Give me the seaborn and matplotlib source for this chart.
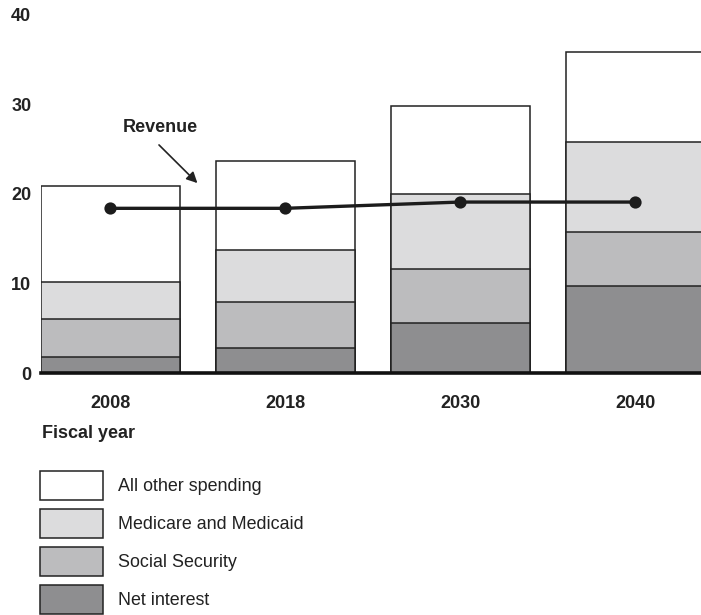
import matplotlib
matplotlib.use("Agg")
import matplotlib.pyplot as plt
from matplotlib.patches import Patch
import seaborn as sns
import numpy as np

# ---- data ----
years = ["2008", "2018", "2030", "2040"]
net_interest = [1.8, 2.8, 5.6, 9.7]
social_security = [4.2, 5.1, 6.0, 6.1]
medicare_medicaid = [4.2, 5.8, 8.4, 10.0]
all_other = [10.7, 10.0, 9.8, 10.1]
revenue = [18.4, 18.4, 19.1, 19.1]
series_names = ["All other spending", "Medicare and Medicaid", "Social Security", "Net interest"]
y_ticks = [0, 10, 20, 30, 40]

sns.set_style("white")
plt.rcParams["font.family"] = ["Liberation Sans", "DejaVu Sans"]

colors = {
    "Net interest": "#8e8e90",
    "Social Security": "#bcbcbe",
    "Medicare and Medicaid": "#dcdcdd",
    "All other spending": "#ffffff",
}
edge = "#222222"

fig = plt.figure(figsize=(7.01, 6.15), dpi=100)
W, H = 701, 615
ax = fig.add_axes([41 / W, 1 - 373 / H, 660 / W, 358 / H])

layers = [net_interest, social_security, medicare_medicaid, all_other]
names_bottom_up = ["Net interest", "Social Security", "Medicare and Medicaid", "All other spending"]
cum = np.cumsum(np.array(layers), axis=0)

# draw from the top (total) down so each lower layer overlays
for i in range(len(layers) - 1, -1, -1):
    sns.barplot(x=years, y=cum[i], color=colors[names_bottom_up[i]], saturation=1,
                edgecolor=edge, linewidth=1.1, width=0.794, errorbar=None, ax=ax)

sns.pointplot(x=years, y=revenue, color="#1c1c1c", markers="o", linestyles="-",
              errorbar=None, markersize=7, linewidth=2.4, ax=ax)

ax.set_xlim(-0.395, -0.395 + 660 / 175)
ax.set_ylim(0, 40)
ax.set_yticks(y_ticks)
ax.set_yticklabels([str(t) for t in y_ticks], fontsize=13, fontweight="bold", color="#222222")
ax.set_xticklabels(years, fontsize=13, fontweight="bold", color="#222222")
ax.tick_params(axis="x", length=0, pad=16)
ax.tick_params(axis="y", length=0, pad=7)
ax.set_xlabel("")
ax.set_ylabel("")
for s in ["top", "right", "left"]:
    ax.spines[s].set_visible(False)
ax.spines["bottom"].set_linewidth(2.6)
ax.spines["bottom"].set_color("#111111")
ax.spines["bottom"].set_zorder(5)

# Revenue annotation
ax.annotate("", xy=(0.51, 21.0), xytext=(0.268, 25.7),
            arrowprops=dict(arrowstyle="-|>", color="#222222", lw=1.2, mutation_scale=16))
ax.text(0.285, 27.4, "Revenue", ha="center", va="center", fontsize=13,
        fontweight="bold", color="#222222")

fig.text(42 / W, 1 - 434 / H, "Fiscal year", ha="left", va="center", fontsize=13,
         fontweight="bold", color="#222222")

handles = [Patch(facecolor=colors[n], edgecolor=edge, linewidth=1.1) for n in series_names]
fig.legend(handles, series_names, loc="upper left",
           bbox_to_anchor=(40 / W, 1 - 471 / H), bbox_transform=fig.transFigure,
           frameon=False, fontsize=12.9, handlelength=3.5, handleheight=2.115,
           labelspacing=0.5, handletextpad=0.84, borderpad=0, borderaxespad=0,
           labelcolor="#222222")

fig.savefig("out.png", dpi=100)
